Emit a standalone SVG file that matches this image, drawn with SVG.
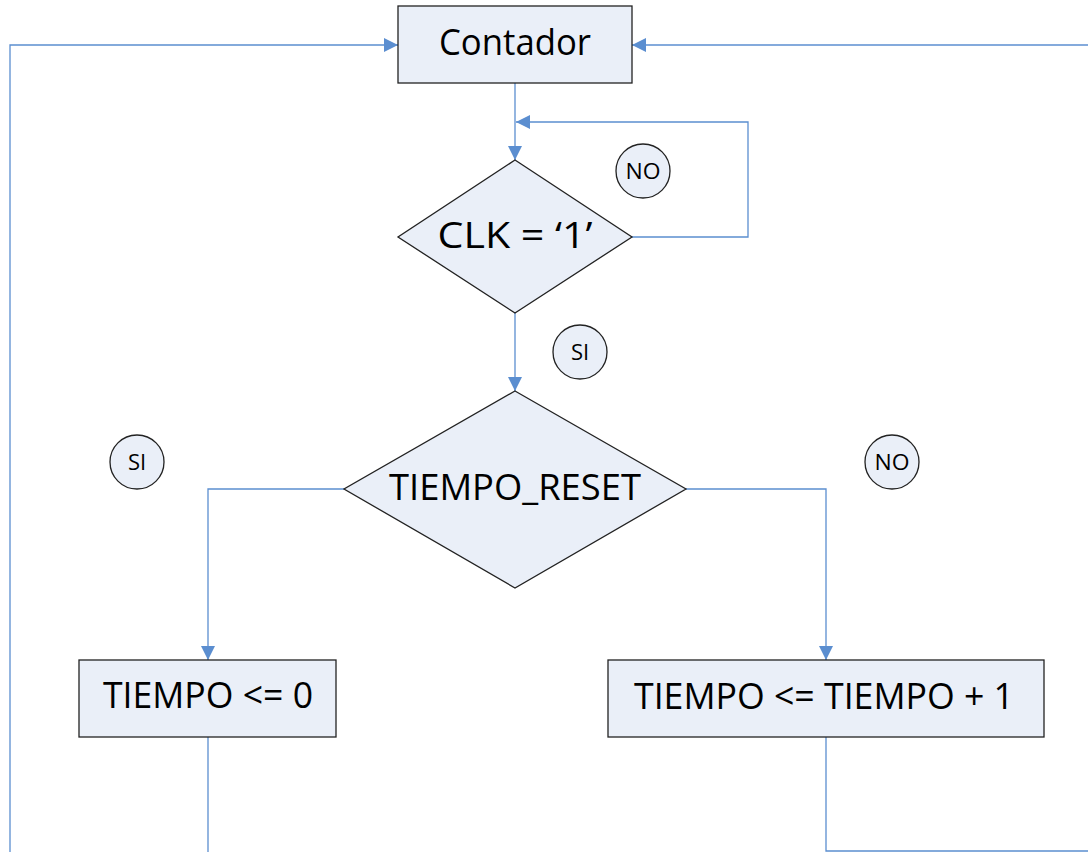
<svg xmlns="http://www.w3.org/2000/svg" width="1088" height="852" viewBox="0 0 1088 852">
<style>
.node{fill:#EAEFF8;stroke:#222;stroke-width:1.3}
.big{font-family:"Open Sans","DejaVu Sans",sans-serif;font-size:37px;font-weight:500;fill:#000;text-anchor:middle}
.small{font-family:"Open Sans","DejaVu Sans",sans-serif;font-size:22px;fill:#000;text-anchor:middle}
.conn{fill:none;stroke:#5B8ED0;stroke-width:1.3}
</style>
<defs>
<marker id="arr" viewBox="0 0 14 14" refX="14" refY="7" markerWidth="14" markerHeight="14" markerUnits="userSpaceOnUse" orient="auto">
<path d="M0,0 L14,7 L0,14 Z" fill="#5B8ED0"/>
</marker>
</defs>
<g id="connectors">
<path class="conn" d="M10,852 L10,45 L398,45" marker-end="url(#arr)"/>
<path class="conn" d="M1088,45 L632,45" marker-end="url(#arr)"/>
<path class="conn" d="M515,83 L515,160" marker-end="url(#arr)"/>
<path class="conn" d="M632,237 L748,237 L748,122 L516,122" marker-end="url(#arr)"/>
<path class="conn" d="M515,313 L515,391" marker-end="url(#arr)"/>
<path class="conn" d="M344,489 L208,489 L208,660" marker-end="url(#arr)"/>
<path class="conn" d="M686,489 L826,489 L826,660" marker-end="url(#arr)"/>
<path class="conn" d="M208,737 L208,852"/>
<path class="conn" d="M826,737 L826,851 L1088,851"/>
</g>
<g id="contador">
<rect class="node" x="398" y="6" width="234" height="77"/>
<text class="big" x="515" y="55" textLength="152" lengthAdjust="spacingAndGlyphs">Contador</text>
</g>
<g id="clk">
<polygon class="node" points="515,160 632,237 515,313 398,237"/>
<text class="big" x="515" y="248" textLength="155" lengthAdjust="spacingAndGlyphs">CLK = ‘1’</text>
</g>
<g id="no1">
<circle class="node" cx="643" cy="171" r="27"/>
<text class="small" x="643" y="179" textLength="35" lengthAdjust="spacingAndGlyphs">NO</text>
</g>
<g id="si1">
<circle class="node" cx="580" cy="352" r="27"/>
<text class="small" x="580" y="360">SI</text>
</g>
<g id="reset">
<polygon class="node" points="515,391 686,489 515,588 344,489"/>
<text class="big" x="515" y="500" textLength="252" lengthAdjust="spacingAndGlyphs">TIEMPO_RESET</text>
</g>
<g id="si2">
<circle class="node" cx="137" cy="462" r="27"/>
<text class="small" x="137" y="470">SI</text>
</g>
<g id="no2">
<circle class="node" cx="892" cy="462" r="27"/>
<text class="small" x="892" y="470" textLength="35" lengthAdjust="spacingAndGlyphs">NO</text>
</g>
<g id="zero">
<rect class="node" x="79" y="660" width="257" height="77"/>
<text class="big" x="208" y="708" textLength="210" lengthAdjust="spacingAndGlyphs">TIEMPO &lt;= 0</text>
</g>
<g id="inc">
<rect class="node" x="608" y="660" width="436" height="77"/>
<text class="big" x="824" y="709" textLength="380" lengthAdjust="spacingAndGlyphs">TIEMPO &lt;= TIEMPO + 1</text>
</g>
</svg>
